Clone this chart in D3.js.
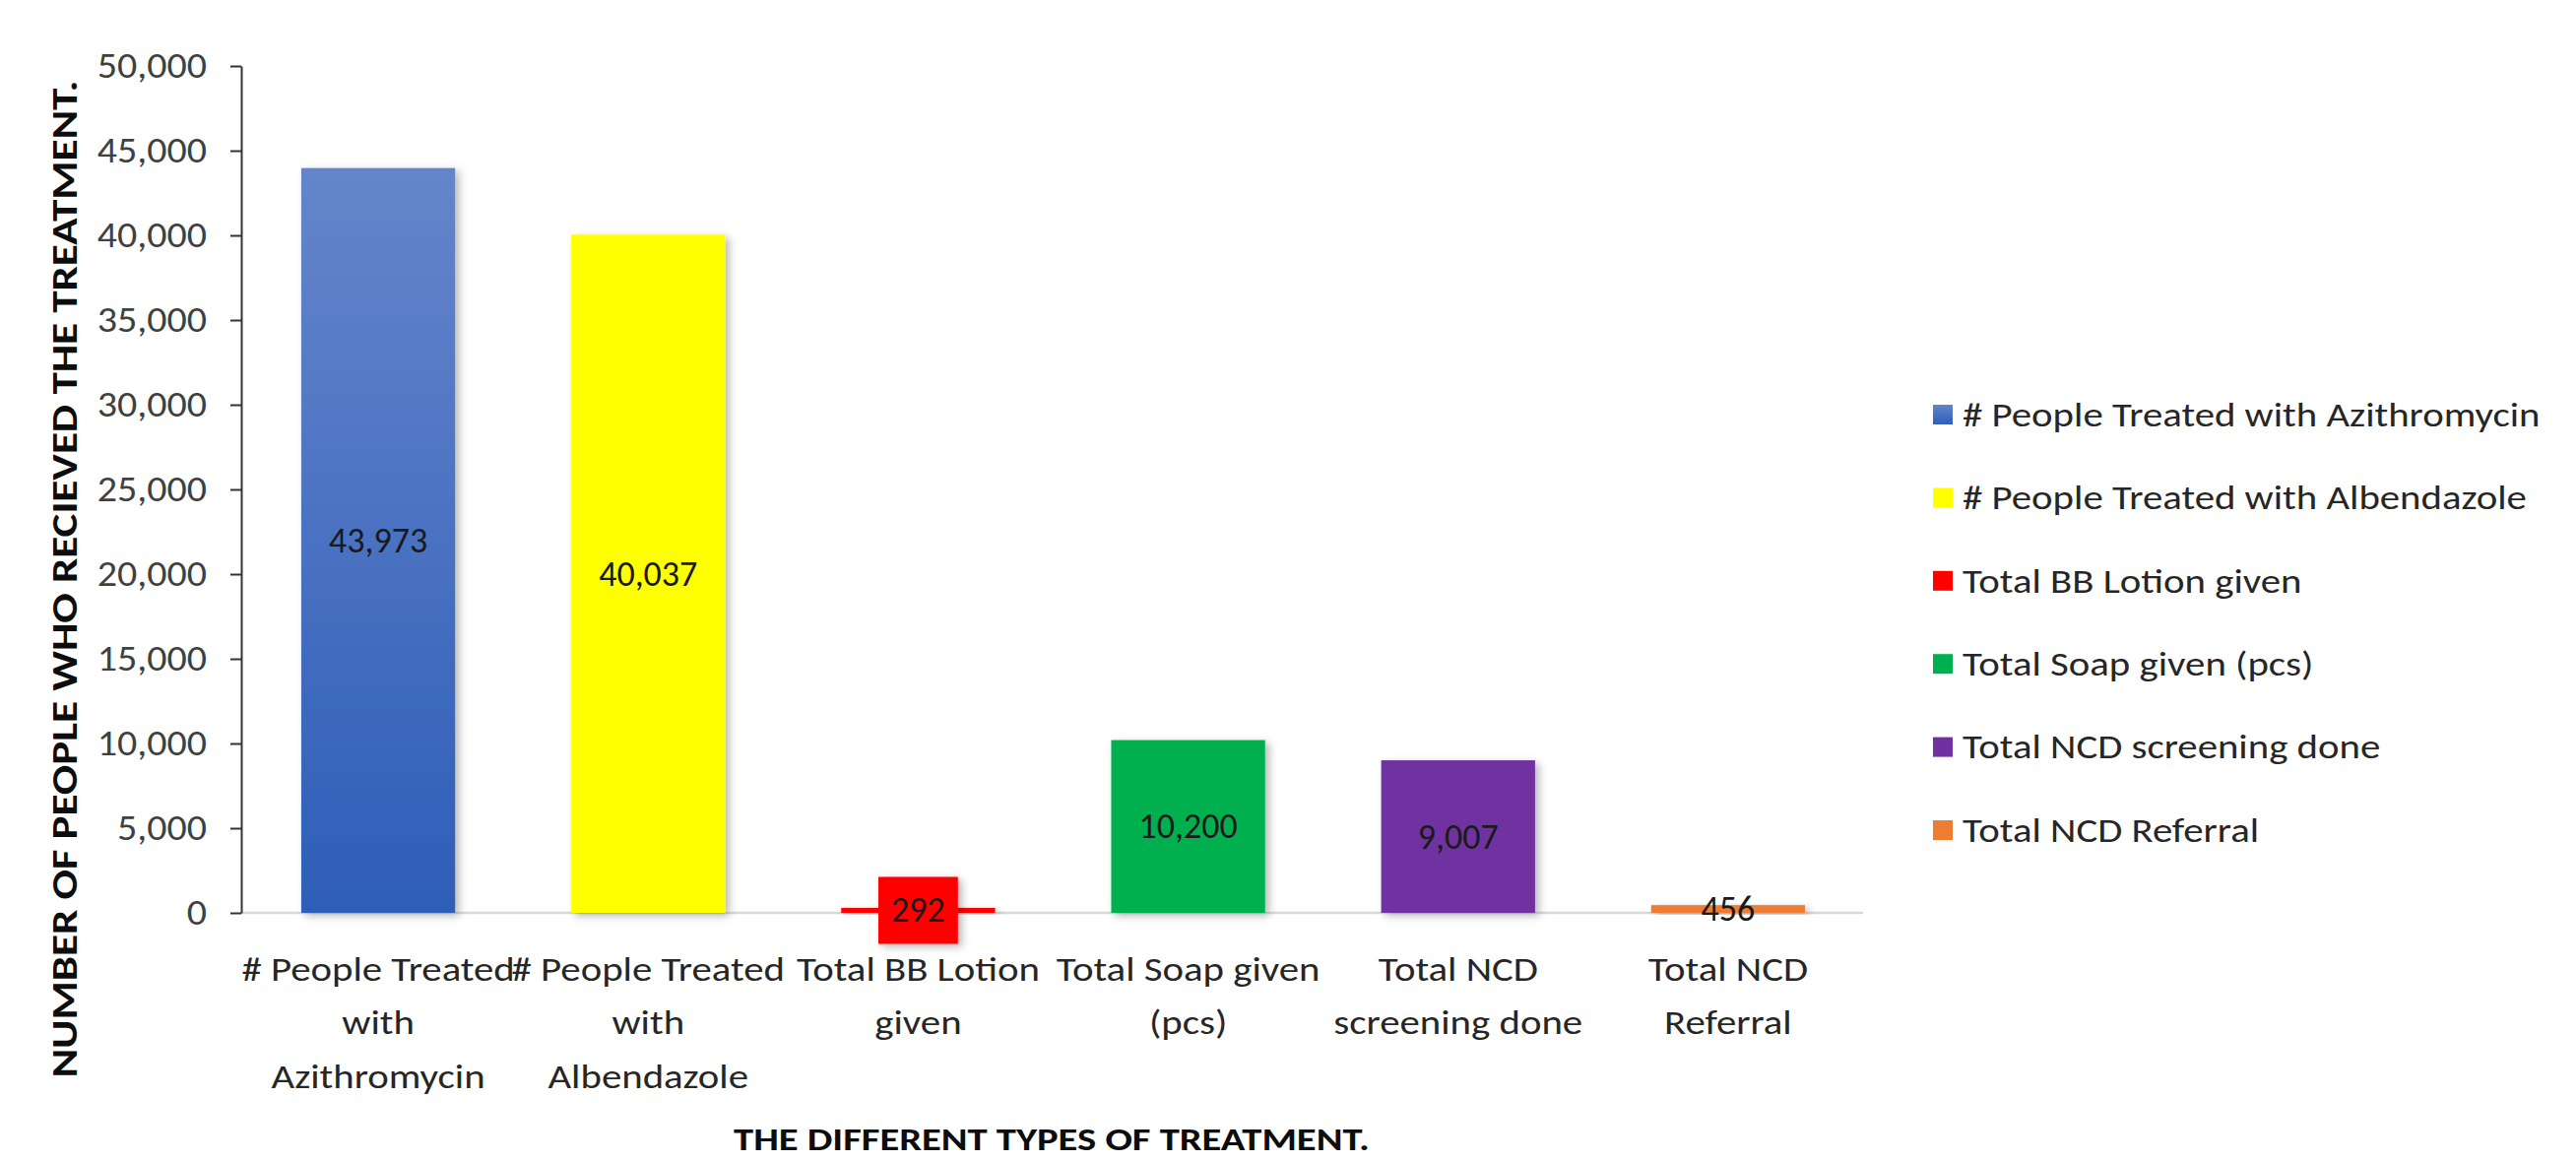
<!DOCTYPE html>
<html>
<head>
<meta charset="utf-8">
<script src="https://cdn.jsdelivr.net/npm/d3@7"></script>
<style>
  html, body { margin: 0; padding: 0; background: #fff; }
  svg { display: block; font-family: Carlito, Calibri, Lato, sans-serif; }
</style>
</head>
<body>
<div id="chart"></div>
<script>
// Data
const categories = [
    "# People Treated with Azithromycin",
    "# People Treated with Albendazole",
    "Total BB Lotion given",
    "Total Soap given (pcs)",
    "Total NCD screening done",
    "Total NCD Referral"
];
const values = [43973, 40037, 292, 10200, 9007, 456];
const categoryLines = [
    ["# People Treated", "with", "Azithromycin"],
    ["# People Treated", "with", "Albendazole"],
    ["Total BB Lotion", "given"],
    ["Total Soap given", "(pcs)"],
    ["Total NCD", "screening done"],
    ["Total NCD", "Referral"]
];
const yTicks = [0, 5000, 10000, 15000, 20000, 25000, 30000, 35000, 40000, 45000, 50000];
const yTitle = "NUMBER OF PEOPLE WHO RECIEVED THE TREATMENT.";
const xTitle = "THE DIFFERENT TYPES OF TREATMENT.";

// Styles
const barColors = ["url(#blueGrad)", "#FFFF00", "#FF0000", "#00B050", "#7030A0", "#ED7D31"];
const labelBg = [null, null, "#FF0000", null, null, null];

const width = 2616, height = 1179;
const axisX = 245;
// the source picture is stretched sideways, so text is widened a bit
const textStretch = 1.2;

const svg = d3.select("#chart").append("svg")
    .attr("width", width)
    .attr("height", height);

svg.append("rect").attr("width", width).attr("height", height).attr("fill", "#fff");

const defs = svg.append("defs");
const grad = defs.append("linearGradient")
    .attr("id", "blueGrad")
    .attr("x1", 0).attr("y1", 0).attr("x2", 0).attr("y2", 1);
grad.append("stop").attr("offset", "0%").attr("stop-color", "#6585CB");
grad.append("stop").attr("offset", "100%").attr("stop-color", "#2E5EB8");

const shadow = defs.append("filter")
    .attr("id", "shadow")
    .attr("x", "-20%").attr("y", "-20%")
    .attr("width", "140%").attr("height", "140%");
shadow.append("feDropShadow")
    .attr("dx", 4).attr("dy", 3)
    .attr("stdDeviation", 4)
    .attr("flood-color", "#000")
    .attr("flood-opacity", 0.28);

const x = d3.scaleBand()
    .domain(categories)
    .range([247, 1892])
    .paddingInner(0.43)
    .paddingOuter(0.215);

const y = d3.scaleLinear()
    .domain([0, 50000])
    .range([927, 67]);

// Baseline
svg.append("line")
    .attr("x1", axisX).attr("x2", 1892)
    .attr("y1", y(0)).attr("y2", y(0))
    .attr("stroke", "#D9D9D9")
    .attr("stroke-width", 2.5);

// Bars
svg.append("g")
    .selectAll("rect")
    .data(values)
    .join("rect")
    .attr("x", (d, i) => x(categories[i]))
    .attr("y", d => y(d))
    .attr("width", x.bandwidth())
    .attr("height", d => y(0) - y(d))
    .attr("fill", (d, i) => barColors[i])
    .attr("filter", "url(#shadow)");

// Y axis
const yAxis = svg.append("g")
    .attr("transform", `translate(${axisX},0)`)
    .call(d3.axisLeft(y)
        .tickValues(yTicks)
        .tickFormat(d3.format(","))
        .tickSize(11)
        .tickSizeOuter(0)
        .tickPadding(25));
yAxis.select(".domain").attr("stroke", "#333").attr("stroke-width", 2);
yAxis.selectAll(".tick line").attr("stroke", "#333").attr("stroke-width", 2);
yAxis.selectAll(".tick text")
    .attr("x", 0)
    .attr("transform", "translate(-35,0) scale(1.08,1)")
    .attr("fill", "#404040")
    .style("font-size", "37px")
    .style("font-family", "Carlito, Calibri, Lato, sans-serif");

// Category labels
svg.append("g")
    .selectAll("text")
    .data(categoryLines)
    .join("text")
    .attr("text-anchor", "middle")
    .attr("fill", "#262626")
    .style("font-size", "34px")
    .attr("transform", (lines, i) =>
        `translate(${x(categories[i]) + x.bandwidth() / 2},996) scale(${textStretch},1)`)
    .each(function (lines) {
        d3.select(this).selectAll("tspan")
            .data(lines)
            .join("tspan")
            .attr("x", 0)
            .attr("y", (l, j) => j * 54.5)
            .text(l => l);
    });

// Data labels
const labels = svg.append("g")
    .selectAll("g")
    .data(values)
    .join("g")
    .attr("transform", (d, i) =>
        `translate(${x(categories[i]) + x.bandwidth() / 2},${(y(d) + y(0)) / 2})`);
labels.append("text")
    .attr("text-anchor", "middle")
    .attr("dominant-baseline", "central")
    .attr("fill", "#1A1A1A")
    .style("font-size", "36px")
    .text(d => d3.format(",")(d));
labels.each(function (d, i) {
    if (!labelBg[i]) return;
    const g = d3.select(this);
    const bb = g.select("text").node().getBBox();
    g.insert("rect", "text")
        .attr("x", bb.x - 13)
        .attr("y", bb.y - 12)
        .attr("width", bb.width + 26)
        .attr("height", bb.height + 24)
        .attr("fill", labelBg[i])
        .attr("filter", "url(#shadow)");
});

// Axis titles
svg.append("text")
    .attr("transform", "translate(66,588) rotate(-90) scale(1.25,1)")
    .attr("text-anchor", "middle")
    .attr("dominant-baseline", "central")
    .attr("fill", "#0D0D0D")
    .style("font-size", "36px")
    .style("font-weight", "bold")
    .text(yTitle);

svg.append("text")
    .attr("transform", "translate(1068,1168) scale(1.23,1)")
    .attr("text-anchor", "middle")
    .attr("fill", "#0D0D0D")
    .style("font-size", "33px")
    .style("font-weight", "bold")
    .text(xTitle);

// Legend
const legend = svg.append("g")
    .selectAll("g")
    .data(categories)
    .join("g")
    .attr("transform", (d, i) => `translate(1963,${421 + i * 84.4})`);
legend.append("rect")
    .attr("x", 0)
    .attr("y", -10)
    .attr("width", 20)
    .attr("height", 20)
    .attr("fill", (d, i) => barColors[i]);
legend.append("text")
    .attr("transform", `translate(30,0) scale(${textStretch},1)`)
    .attr("dominant-baseline", "central")
    .attr("fill", "#262626")
    .style("font-size", "34px")
    .text(d => d);
</script>
</body>
</html>
